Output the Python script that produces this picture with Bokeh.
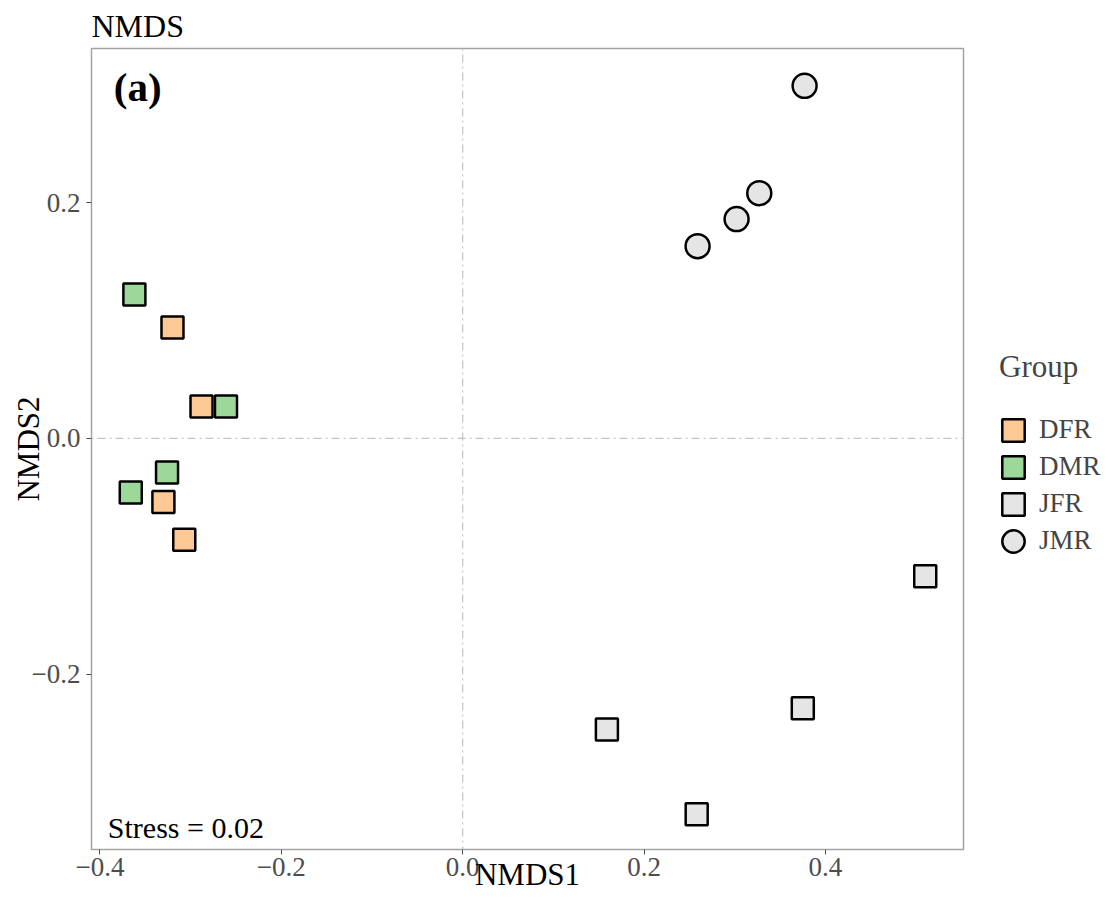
from bokeh.plotting import figure
from bokeh.models import Range1d, Span, Label, Legend, LegendItem, FixedTicker
from bokeh.embed import file_html
from bokeh.resources import INLINE

# ---- data -------------------------------------------------------------
groups = ["DFR", "DMR", "JFR", "JMR"]
shapes = ["square", "square", "square", "circle"]
fills = ["#FCC894", "#9DD89B", "#E5E5E5", "#E5E5E5"]

dfr_x = [-0.320, -0.288, -0.330, -0.307]
dfr_y = [0.094, 0.027, -0.054, -0.086]
dmr_x = [-0.362, -0.261, -0.326, -0.366]
dmr_y = [0.122, 0.027, -0.029, -0.046]
jfr_x = [0.510, 0.375, 0.159, 0.258]
jfr_y = [-0.117, -0.229, -0.247, -0.319]
jmr_x = [0.377, 0.327, 0.302, 0.259]
jmr_y = [0.299, 0.208, 0.186, 0.163]

x_ticks = [-0.4, -0.2, 0.0, 0.2, 0.4]
x_tick_labels = ["\u22120.4", "\u22120.2", "0.0", "0.2", "0.4"]
y_ticks = [-0.2, 0.0, 0.2]
y_tick_labels = ["\u22120.2", "0.0", "0.2"]

series_x = [dfr_x, dmr_x, jfr_x, jmr_x]
series_y = [dfr_y, dmr_y, jfr_y, jmr_y]

FONT = "Liberation Serif"

p = figure(frame_width=872, frame_height=801,
           x_range=Range1d(-0.4093, 0.5522), y_range=Range1d(-0.3488, 0.3307),
           output_backend="svg", toolbar_location=None,
           min_border_left=91, min_border_top=48, min_border_right=140,
           min_border_bottom=10, title="NMDS")

p.title.text_font = FONT
p.title.text_font_size = "32px"
p.title.text_font_style = "normal"
p.title.text_color = "black"
p.title.align = "left"
p.title.standoff = 10

p.xgrid.visible = False
p.ygrid.visible = False
p.outline_line_color = "#A3A3A3"
p.outline_line_width = 1.5

# zero lines
for dim in ("width", "height"):
    p.add_layout(Span(location=0, dimension=dim, line_color="#C4C4C4",
                      line_width=1.2, line_dash="2 4 8 4"))

renderers = []
for g, s, f, xs, ys in zip(groups, shapes, fills, series_x, series_y):
    if s == "square":
        r = p.rect(xs, ys, width=22, height=22, width_units="screen",
                   height_units="screen", fill_color=f,
                   line_color="black", line_width=2.5)
    else:
        r = p.ellipse(xs, ys, width=24, height=24, width_units="screen",
                      height_units="screen", fill_color=f,
                      line_color="black", line_width=2.5)
    renderers.append(r)

# axes
p.xaxis.ticker = FixedTicker(ticks=x_ticks)
p.yaxis.ticker = FixedTicker(ticks=y_ticks)
p.xaxis.major_label_overrides = dict(zip(x_ticks, x_tick_labels))
p.yaxis.major_label_overrides = dict(zip(y_ticks, y_tick_labels))
for ax in (p.xaxis[0], p.yaxis[0]):
    ax.axis_line_color = None
    ax.minor_tick_line_color = None
    ax.major_tick_in = 0
    ax.major_tick_out = 5
    ax.major_tick_line_color = "#4D4D4D"
    ax.major_label_text_font = FONT
    ax.major_label_text_font_size = "27px"
    ax.major_label_text_color = "#4D4D4D"
    ax.axis_label_text_font = FONT
    ax.axis_label_text_font_size = "31px"
    ax.axis_label_text_font_style = "normal"
    ax.axis_label_text_color = "black"
p.xaxis.major_label_standoff = 3
p.yaxis.major_label_standoff = 6
p.xaxis.axis_label = "NMDS1"
p.yaxis.axis_label = "NMDS2"
p.xaxis.axis_label_standoff = -22
p.yaxis.axis_label_standoff = -17

# in-panel annotations
p.add_layout(Label(x=-0.3847, y=0.2978, text="(a)", text_font=FONT,
                   text_font_size="41px", text_font_style="bold",
                   text_color="black", text_baseline="alphabetic"))
p.add_layout(Label(x=-0.3913, y=-0.3301, text="Stress = 0.02", text_font=FONT,
                   text_font_size="30px", text_color="black",
                   text_baseline="alphabetic"))

legend = Legend(items=[LegendItem(label=g, renderers=[r]) for g, r in zip(groups, renderers)],
                location=(36, 293), title="Group",
                title_text_font=FONT, title_text_font_size="31px",
                title_text_font_style="normal", title_standoff=29,
                label_text_font=FONT, label_text_font_size="27px",
                glyph_width=28, glyph_height=28, spacing=6,
                label_standoff=12, padding=0, margin=0,
                border_line_color=None, background_fill_alpha=0)
p.add_layout(legend, "right")

open("out.html", "w").write(file_html(p, INLINE))
